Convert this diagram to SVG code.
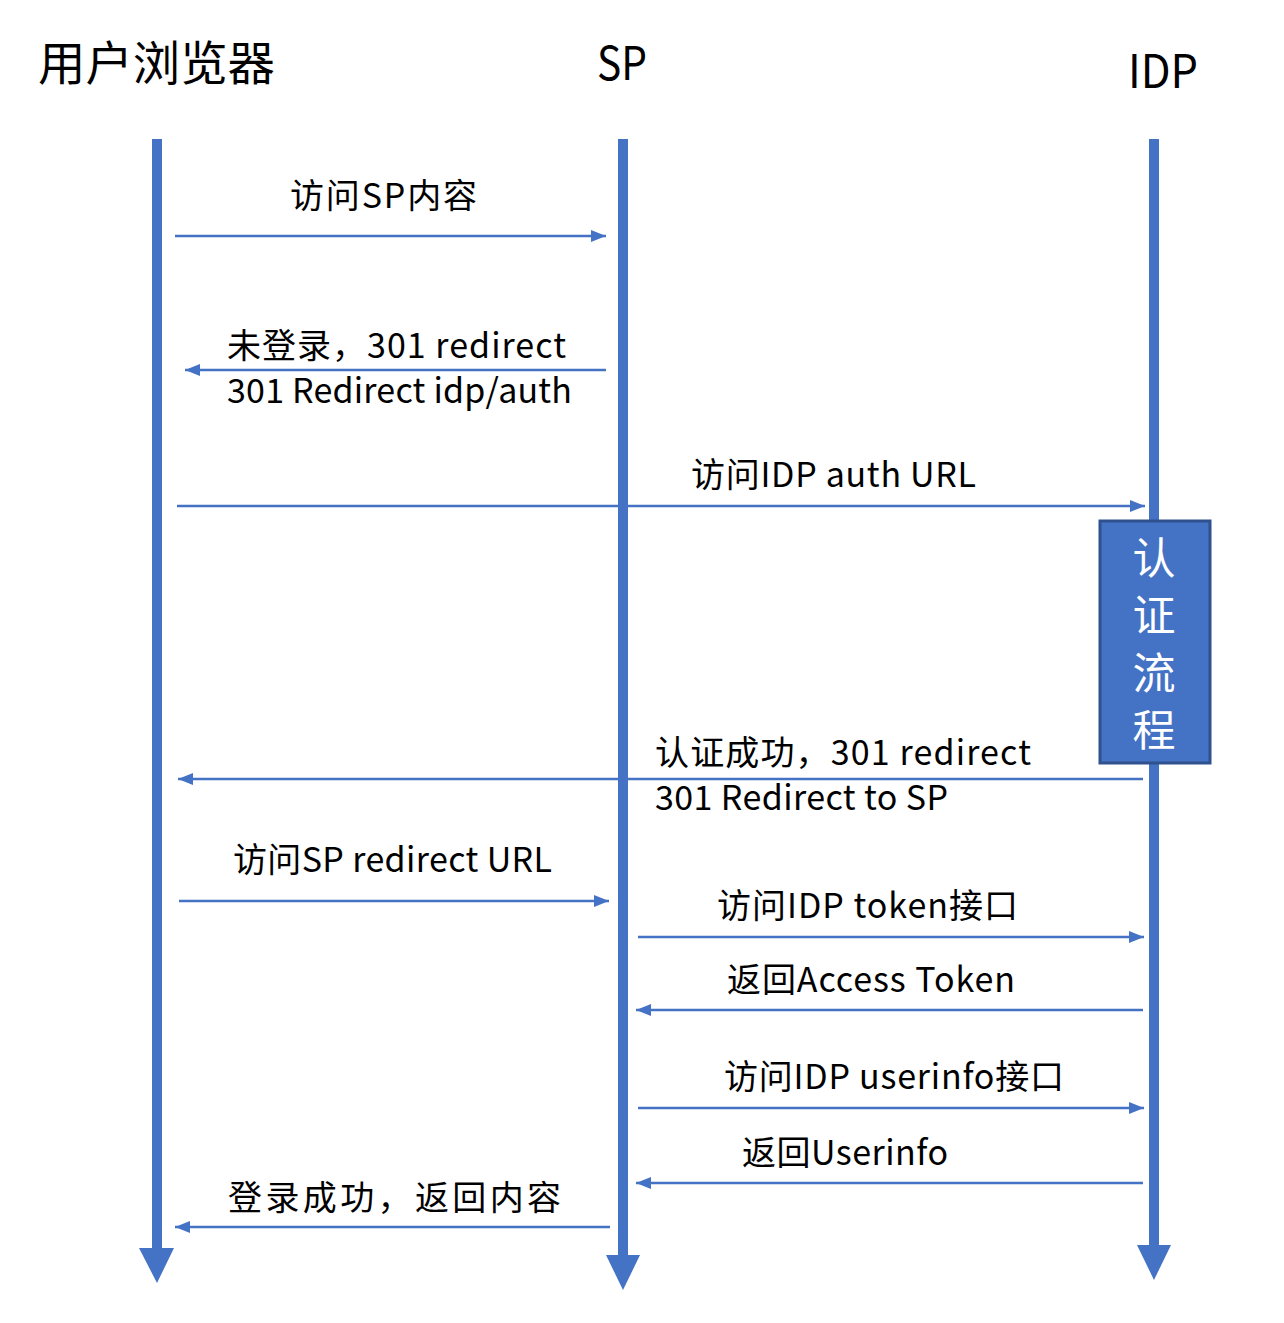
<svg xmlns="http://www.w3.org/2000/svg" width="1284" height="1323" viewBox="0 0 1284 1323">
<style>
.t{font-family:"Noto Sans CJK SC","Liberation Sans",sans-serif;fill:#000}
.title{font-size:47px}
.lbl{font-size:34px}
.life{stroke:#4472C4;stroke-width:10;fill:none}
.head{fill:#4472C4}
.msg{stroke:#4472C4;stroke-width:2.5;fill:none;marker-end:url(#ah)}
.box{fill:#4472C4;stroke:#2F528F;stroke-width:3}
.bt{font-family:"Noto Sans CJK SC",sans-serif;font-size:43px;fill:#fff}
</style>
<defs>
<marker id="ah" markerUnits="userSpaceOnUse" markerWidth="16" markerHeight="14" refX="15" refY="7" orient="auto">
<path d="M0,1 L15,7 L0,13 z" fill="#4472C4"/>
</marker>
</defs>
<rect width="1284" height="1323" fill="#fff"/>
<g id="browser">
<text class="t title" x="38" y="80" textLength="237" lengthAdjust="spacingAndGlyphs">用户浏览器</text>
<line class="life" x1="157" y1="139" x2="157" y2="1250"/>
<polygon class="head" points="139,1248 174,1248 157,1283"/>
</g>
<g id="sp">
<text class="t title" x="597" y="80" textLength="50" lengthAdjust="spacingAndGlyphs">SP</text>
<line class="life" x1="623" y1="139" x2="623" y2="1257"/>
<polygon class="head" points="606,1255 640,1255 623,1290"/>
</g>
<g id="idp">
<text class="t title" x="1128" y="88" textLength="70" lengthAdjust="spacingAndGlyphs">IDP</text>
<line class="life" x1="1154" y1="139" x2="1154" y2="1247"/>
<polygon class="head" points="1137,1245 1171,1245 1154,1280"/>
</g>
<g id="auth-box">
<rect class="box" x="1100" y="521" width="110" height="242"/>
<text class="bt" x="1154" y="574" text-anchor="middle">认</text>
<text class="bt" x="1154" y="631" text-anchor="middle">证</text>
<text class="bt" x="1154" y="689" text-anchor="middle">流</text>
<text class="bt" x="1154" y="746" text-anchor="middle">程</text>
</g>
<g id="connectors">
<line class="msg" x1="175" y1="236" x2="606" y2="236"/>
<line class="msg" x1="606" y1="370" x2="185" y2="370"/>
<line class="msg" x1="177" y1="506" x2="1145" y2="506"/>
<line class="msg" x1="1143" y1="779" x2="178" y2="779"/>
<line class="msg" x1="179" y1="901" x2="609" y2="901"/>
<line class="msg" x1="638" y1="937" x2="1144" y2="937"/>
<line class="msg" x1="1143" y1="1010" x2="636" y2="1010"/>
<line class="msg" x1="638" y1="1108" x2="1144" y2="1108"/>
<line class="msg" x1="1143" y1="1183" x2="636" y2="1183"/>
<line class="msg" x1="610" y1="1227" x2="175" y2="1227"/>
</g>
<g id="labels">
<text class="t lbl" x="290" y="208" textLength="187">访问SP内容</text>
<text class="t lbl" x="227" y="358" textLength="339">未登录，301 redirect</text>
<text class="t lbl" x="227" y="403" textLength="345">301 Redirect idp/auth</text>
<text class="t lbl" x="691" y="487" textLength="285">访问IDP auth URL</text>
<text class="t lbl" x="655" y="765" textLength="376">认证成功，301 redirect</text>
<text class="t lbl" x="655" y="810" textLength="293">301 Redirect to SP</text>
<text class="t lbl" x="233" y="872" textLength="319">访问SP redirect URL</text>
<text class="t lbl" x="717" y="918" textLength="301">访问IDP token接口</text>
<text class="t lbl" x="727" y="992" textLength="288">返回Access Token</text>
<text class="t lbl" x="724" y="1089" textLength="340">访问IDP userinfo接口</text>
<text class="t lbl" x="742" y="1165" textLength="206">返回Userinfo</text>
<text class="t lbl" x="228" y="1210" textLength="333">登录成功，返回内容</text>
</g>
</svg>
